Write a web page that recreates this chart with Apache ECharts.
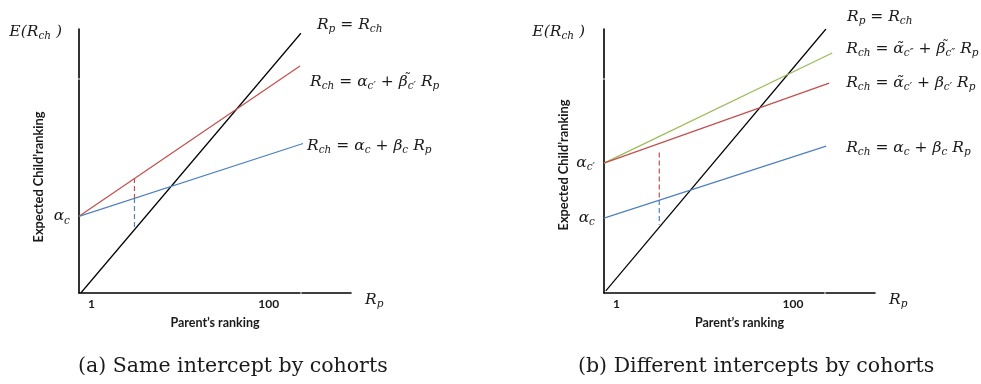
<!DOCTYPE html>
<html>
<head>
<meta charset="utf-8">
<script src="https://cdn.jsdelivr.net/npm/echarts@6/dist/echarts.min.js"></script>
<style>
  html, body { margin: 0; padding: 0; background: #fff; }
  #chart { width: 981px; height: 384px; }
</style>
</head>
<body>
<div id="chart"></div>
<script>
// Both panels share one ranking scale: x = parent's rank R_p, y = expected child's rank E(R_ch).
const rankMin = -6;
const rpMax = 146;
const rchMax = 118;
const rpTicks = [1, 100];

// (a) Same intercept by cohorts: [R_p, R_ch] end points of each line
const aIdentity = [[-5, -6], [118, 116]];
const aCohortNew = [[-6, 30], [117.5, 100.6]];
const aCohortOld = [[-6, 30], [119.2, 64.2]];
const aGapNew = [[25, 48], [25, 38.6]];
const aGapOld = [[25, 38.6], [25, 24]];
const aIntercepts = [30];

// (b) Different intercepts by cohorts
const bIdentity = [[-5, -5], [118.5, 118]];
const bCohortNewer = [[-6, 55], [122, 106.7]];
const bCohortNew = [[-6, 55], [120.3, 92.6]];
const bCohortOld = [[-6, 29.2], [118.6, 63]];
const bGapNew = [[25, 60], [25, 37.7]];
const bGapOld = [[25, 37.7], [25, 26]];
const bIntercepts = [55, 29.2];

const MATH = 'DejaVu Serif';
const SANS = 'Lato';
const INK = '#1a1a1a';
const C_BLACK = '#000000';
const C_RED = '#c0504d';
const C_BLUE = '#4f81bd';
const C_GREEN = '#9bbb59';

// rich-text styles for the formulas: italic symbols, upright operators, subscripts,
// and a zero-width raised tilde that sits over the preceding tall glyph
const mathRich = {
  m: { fontFamily: MATH, fontStyle: 'italic', fontSize: 15.5, color: INK, lineHeight: 20 },
  o: { fontFamily: MATH, fontSize: 15.5, color: INK, lineHeight: 20 },
  s: { fontFamily: MATH, fontStyle: 'italic', fontSize: 10.5, color: INK, lineHeight: 13, verticalAlign: 'bottom' },
  sl: { fontFamily: MATH, fontStyle: 'italic', fontSize: 10.5, color: INK, lineHeight: 13, verticalAlign: 'bottom', padding: [6, 0, 0, 0] },
  t: { fontFamily: MATH, fontSize: 13, color: INK, lineHeight: 10, verticalAlign: 'top', width: 0.01, align: 'right', padding: [0, 0, 0, 0] }
};

function grid(left, width) {
  return { left: left, top: 29, width: width, height: 264, containLabel: false, outerBoundsMode: 'none' };
}

function xAxes(gi, gapAt) {
  return [
    {
      type: 'value', gridIndex: gi, position: 'bottom', min: rankMin, max: rpMax,
      axisLine: { show: true, onZero: false, lineStyle: { color: C_BLACK, width: 1.6, type: [gapAt, 2, 1000, 0] } },
      axisTick: { show: false }, splitLine: { show: false },
      axisLabel: { customValues: rpTicks, margin: 5, fontFamily: SANS, fontWeight: 'bold', fontSize: 12, color: INK },
      name: '{m|R}{s|p}', nameLocation: 'end', nameGap: 14,
      nameTextStyle: { rich: mathRich, padding: [14, 0, 0, 0] }
    },
    {
      type: 'value', gridIndex: gi, position: 'bottom', offset: 0, min: rankMin, max: rpMax,
      axisLine: { show: false }, axisTick: { show: false }, axisLabel: { show: false }, splitLine: { show: false },
      name: 'Parent’s ranking', nameLocation: 'middle', nameGap: 23,
      nameTextStyle: { fontFamily: SANS, fontWeight: 'bold', fontSize: 12.5, color: INK }
    }
  ];
}

function yAxes(gi, labels, intercepts, titlePad, namePadRight) {
  return [
    {
      type: 'value', gridIndex: gi, position: 'left', min: rankMin, max: rchMax,
      axisLine: { show: true, onZero: false, lineStyle: { color: C_BLACK, width: 1.6, type: [213, 2, 1000, 0] } },
      axisTick: { show: false }, splitLine: { show: false },
      axisLabel: {
        customValues: intercepts, margin: 9,
        formatter: function (v) { return labels[intercepts.indexOf(v)]; },
        rich: mathRich
      },
      name: '{m|E(R}{s|ch}{m| )}', nameLocation: 'end', nameGap: -13,
      nameTextStyle: { rich: mathRich, align: 'right', padding: [0, namePadRight, 0, 0] }
    },
    {
      type: 'value', gridIndex: gi, position: 'left', offset: 0, min: rankMin, max: rchMax,
      axisLine: { show: false }, axisTick: { show: false }, axisLabel: { show: false }, splitLine: { show: false },
      name: 'Expected Child’ranking', nameLocation: 'middle', nameRotate: 90, nameGap: 34,
      nameTextStyle: { fontFamily: SANS, fontWeight: 'bold', fontSize: 12.8, color: INK, padding: titlePad }
    }
  ];
}

function line(xi, yi, data, color, label, offset) {
  const s = {
    type: 'line', xAxisIndex: xi, yAxisIndex: yi, data: data, symbol: 'none', silent: true,
    lineStyle: { color: color, width: 1.2 }
  };
  if (label) {
    s.endLabel = { show: true, distance: 0, offset: offset, align: 'left', formatter: label, rich: mathRich };
  }
  return s;
}

function dash(xi, yi, data, color) {
  return {
    type: 'line', xAxisIndex: xi, yAxisIndex: yi, data: data, symbol: 'none', silent: true,
    lineStyle: { color: color, width: 1.2, type: [5, 3] }
  };
}

const captionStyle = { fontFamily: MATH, fontWeight: 'normal', fontSize: 20.5, color: INK };

const chart = echarts.init(document.getElementById('chart'), null, { renderer: 'canvas' });

chart.setOption({
  animation: false,
  backgroundColor: '#ffffff',
  title: [
    { text: '(a) Same intercept by cohorts', left: 78, top: 356, padding: 0, textStyle: captionStyle },
    { text: '(b) Different intercepts by cohorts', left: 578, top: 356, padding: 0, textStyle: captionStyle }
  ],
  grid: [grid(79, 272), grid(604, 271)],
  xAxis: xAxes(0, 221).concat(xAxes(1, 220)),
  yAxis: yAxes(0, ['{m|α}{s|c}'], aIntercepts, [0, 32, 0, 0], 17)
    .concat(yAxes(1, ['{m|α}{s|c′}', '{m|α}{sl|c}'], bIntercepts, [0, 8, 0, 0], 19)),
  series: [
    line(0, 0, aIdentity, C_BLACK, '{m|R}{s|p}{o| = }{m|R}{s|ch}', [16, -8]),
    line(0, 0, aCohortNew, C_RED, '{m|R}{s|ch}{o| = }{m|α}{s|c′}{o| + }{m|β}{t|˜}{s|c′}{o| }{m|R}{s|p}', [10, 16]),
    line(0, 0, aCohortOld, C_BLUE, '{m|R}{s|ch}{o| = }{m|α}{s|c}{o| + }{m|β}{s|c}{o| }{m|R}{s|p}', [4, 2]),
    dash(0, 0, aGapNew, C_RED),
    dash(0, 0, aGapOld, C_BLUE),

    line(2, 2, bIdentity, C_BLACK, '{m|R}{s|p}{o| = }{m|R}{s|ch}', [21, -12]),
    line(2, 2, bCohortNewer, C_GREEN, '{m|R}{s|ch}{o| = }{m|α̃}{s|c″}{o| + }{m|β}{t|˜}{s|c″}{o| }{m|R}{s|p}', [14, -4]),
    line(2, 2, bCohortNew, C_RED, '{m|R}{s|ch}{o| = }{m|α̃}{s|c′}{o| + }{m|β}{s|c′}{o| }{m|R}{s|p}', [17, 0]),
    line(2, 2, bCohortOld, C_BLUE, '{m|R}{s|ch}{o| = }{m|α}{s|c}{o| + }{m|β}{s|c}{o| }{m|R}{s|p}', [20, 2]),
    dash(2, 2, bGapNew, C_RED),
    dash(2, 2, bGapOld, C_BLUE)
  ]
});
</script>
</body>
</html>
